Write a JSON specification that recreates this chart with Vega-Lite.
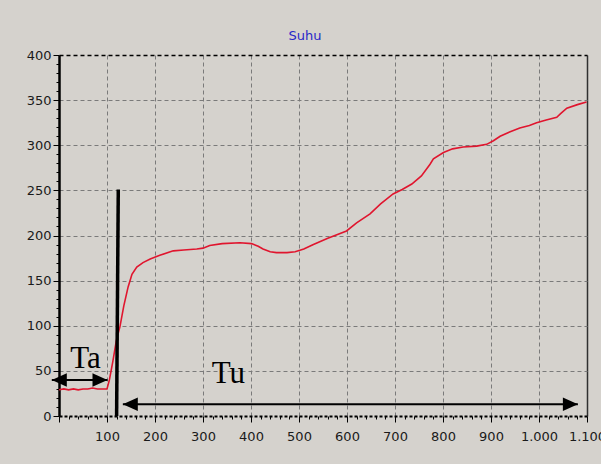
{
  "$schema": "https://vega.github.io/schema/vega-lite/v6.json",
  "width": 528,
  "height": 361,
  "autosize": {"type": "none"},
  "padding": {"left": 59, "top": 55, "right": 14, "bottom": 48},
  "background": "#d5d2cd",
  "config": {
    "view": {"stroke": null},
    "axis": {
      "labelFont": "DejaVu Sans",
      "labelFontSize": 13,
      "labelColor": "#1a1a1a",
      "tickColor": "#000000",
      "tickWidth": 1,
      "grid": true,
      "title": null,
      "tickCount": 200,
      "labelOverlap": false
    }
  },
  "title": {
    "text": "Suhu",
    "color": "#2828c8",
    "font": "DejaVu Sans",
    "fontSize": 13,
    "fontWeight": "normal",
    "anchor": "middle",
    "offset": 6,
    "dx": -18
  },
  "datasets": {
    "temp": [
      {"t": 0, "v": 29}, {"t": 10, "v": 30}, {"t": 20, "v": 29}, {"t": 30, "v": 30},
      {"t": 40, "v": 29}, {"t": 50, "v": 30}, {"t": 60, "v": 30}, {"t": 70, "v": 31},
      {"t": 80, "v": 30}, {"t": 90, "v": 30}, {"t": 100, "v": 30}, {"t": 105, "v": 40},
      {"t": 112, "v": 60}, {"t": 120, "v": 85}, {"t": 127, "v": 99}, {"t": 135, "v": 122},
      {"t": 144, "v": 143}, {"t": 152, "v": 157}, {"t": 162, "v": 165}, {"t": 175, "v": 170},
      {"t": 190, "v": 174}, {"t": 210, "v": 178}, {"t": 238, "v": 183}, {"t": 260, "v": 184},
      {"t": 287, "v": 185}, {"t": 300, "v": 186}, {"t": 314, "v": 189}, {"t": 340, "v": 191},
      {"t": 377, "v": 192}, {"t": 401, "v": 191}, {"t": 415, "v": 188}, {"t": 425, "v": 185},
      {"t": 440, "v": 182}, {"t": 453, "v": 181}, {"t": 475, "v": 181}, {"t": 492, "v": 182},
      {"t": 510, "v": 185}, {"t": 530, "v": 190}, {"t": 560, "v": 197}, {"t": 599, "v": 205},
      {"t": 620, "v": 214}, {"t": 648, "v": 224}, {"t": 670, "v": 235}, {"t": 696, "v": 246},
      {"t": 715, "v": 251}, {"t": 735, "v": 257}, {"t": 755, "v": 266}, {"t": 773, "v": 279},
      {"t": 780, "v": 285}, {"t": 801, "v": 292}, {"t": 820, "v": 296}, {"t": 842, "v": 298},
      {"t": 870, "v": 299}, {"t": 891, "v": 301}, {"t": 905, "v": 305}, {"t": 919, "v": 310},
      {"t": 940, "v": 315}, {"t": 960, "v": 319}, {"t": 980, "v": 322}, {"t": 995, "v": 325},
      {"t": 1015, "v": 328}, {"t": 1037, "v": 331}, {"t": 1045, "v": 335}, {"t": 1058, "v": 341},
      {"t": 1080, "v": 345}, {"t": 1099, "v": 348}
    ],
    "marker": [
      {"t": 120, "v": 0, "t2": 123.5, "v2": 251}
    ],
    "shafts": [
      {"t": -15, "t2": 101, "v": 40},
      {"t": 133, "t2": 1081, "v": 13}
    ],
    "heads": [
      {"t": -15, "v": 40, "dir": "L"},
      {"t": 101, "v": 40, "dir": "R"},
      {"t": 133, "v": 13, "dir": "L"},
      {"t": 1081, "v": 13, "dir": "R"}
    ],
    "labels": [
      {"t": 55, "v": 52.7, "label": "Ta"},
      {"t": 353, "v": 37, "label": "Tu"}
    ]
  },
  "layer": [
    {
      "data": {"name": "temp"},
      "mark": {"type": "line", "color": "#e0152e", "strokeWidth": 1.6},
      "encoding": {
        "x": {
          "field": "t",
          "type": "quantitative",
          "scale": {"domain": [0, 1100], "nice": false, "zero": false},
          "axis": {
            "title": null,
            "tickCount": 200,
            "values": [0,20,40,60,80,100,120,140,160,180,200,220,240,260,280,300,320,340,360,380,400,420,440,460,480,500,520,540,560,580,600,620,640,660,680,700,720,740,760,780,800,820,840,860,880,900,920,940,960,980,1000,1020,1040,1060,1080,1100],
            "labelExpr": "(datum.value % 100 === 0 && datum.value > 0) ? replace(format(datum.value, ','), ',', '.') : ''",
            "labelPadding": 8,
            "labelFlush": false,
            "labelOverlap": false,
            "tickSize": {"condition": {"test": "datum.value % 100 === 0", "value": 6}, "value": 3},
            "domainColor": "#000000",
            "domainWidth": 1.8,
            "domainDash": [3, 2],
            "gridOpacity": {"condition": {"test": "datum.value % 100 === 0 && datum.value > 0", "value": 1}, "value": 0},
            "gridColor": {"condition": {"test": "datum.value === 1100", "value": "#303030"}, "value": "#7a7a7a"},
            "gridDash": {"condition": {"test": "datum.value === 1100", "value": []}, "value": [4, 3]},
            "gridWidth": {"condition": {"test": "datum.value === 1100", "value": 1.5}, "value": 1}
          }
        },
        "y": {
          "field": "v",
          "type": "quantitative",
          "scale": {"domain": [0, 400], "nice": false},
          "axis": {
            "title": null,
            "tickCount": 200,
            "values": [0,10,20,30,40,50,60,70,80,90,100,110,120,130,140,150,160,170,180,190,200,210,220,230,240,250,260,270,280,290,300,310,320,330,340,350,360,370,380,390,400],
            "labelExpr": "datum.value % 50 === 0 ? datum.label : ''",
            "labelPadding": 2,
            "labelOverlap": false,
            "labelFlush": false,
            "tickSize": {"condition": {"test": "datum.value % 50 === 0", "value": 6}, "value": 3},
            "domainColor": "#000000",
            "domainWidth": 2.5,
            "gridOpacity": {"condition": {"test": "datum.value % 50 === 0 && datum.value > 0", "value": 1}, "value": 0},
            "gridColor": {"condition": {"test": "datum.value === 400", "value": "#000000"}, "value": "#7a7a7a"},
            "gridWidth": {"condition": {"test": "datum.value === 400", "value": 1.5}, "value": 1},
            "gridDash": [4, 3]
          }
        }
      }
    },
    {
      "data": {"name": "marker"},
      "mark": {"type": "rule", "color": "#000000", "strokeWidth": 3.5},
      "encoding": {
        "x": {"field": "t", "type": "quantitative"},
        "x2": {"field": "t2"},
        "y": {"field": "v", "type": "quantitative"},
        "y2": {"field": "v2"}
      }
    },
    {
      "data": {"name": "shafts"},
      "mark": {"type": "rule", "color": "#000000", "strokeWidth": 2},
      "encoding": {
        "x": {"field": "t", "type": "quantitative"},
        "x2": {"field": "t2"},
        "y": {"field": "v", "type": "quantitative"}
      }
    },
    {
      "data": {"name": "heads"},
      "mark": {"type": "point", "filled": true, "color": "#000000", "size": 900, "opacity": 1, "strokeWidth": 0},
      "encoding": {
        "x": {"field": "t", "type": "quantitative"},
        "y": {"field": "v", "type": "quantitative"},
        "shape": {
          "field": "dir",
          "type": "nominal",
          "scale": {"domain": ["L", "R"], "range": ["M0,0L1,-0.45L1,0.45Z", "M0,0L-1,-0.45L-1,0.45Z"]},
          "legend": null
        }
      }
    },
    {
      "data": {"name": "labels"},
      "mark": {"type": "text", "font": "Liberation Serif", "fontSize": 31, "color": "#000000", "align": "center", "baseline": "alphabetic"},
      "encoding": {
        "x": {"field": "t", "type": "quantitative"},
        "y": {"field": "v", "type": "quantitative"},
        "text": {"field": "label"}
      }
    }
  ]
}
